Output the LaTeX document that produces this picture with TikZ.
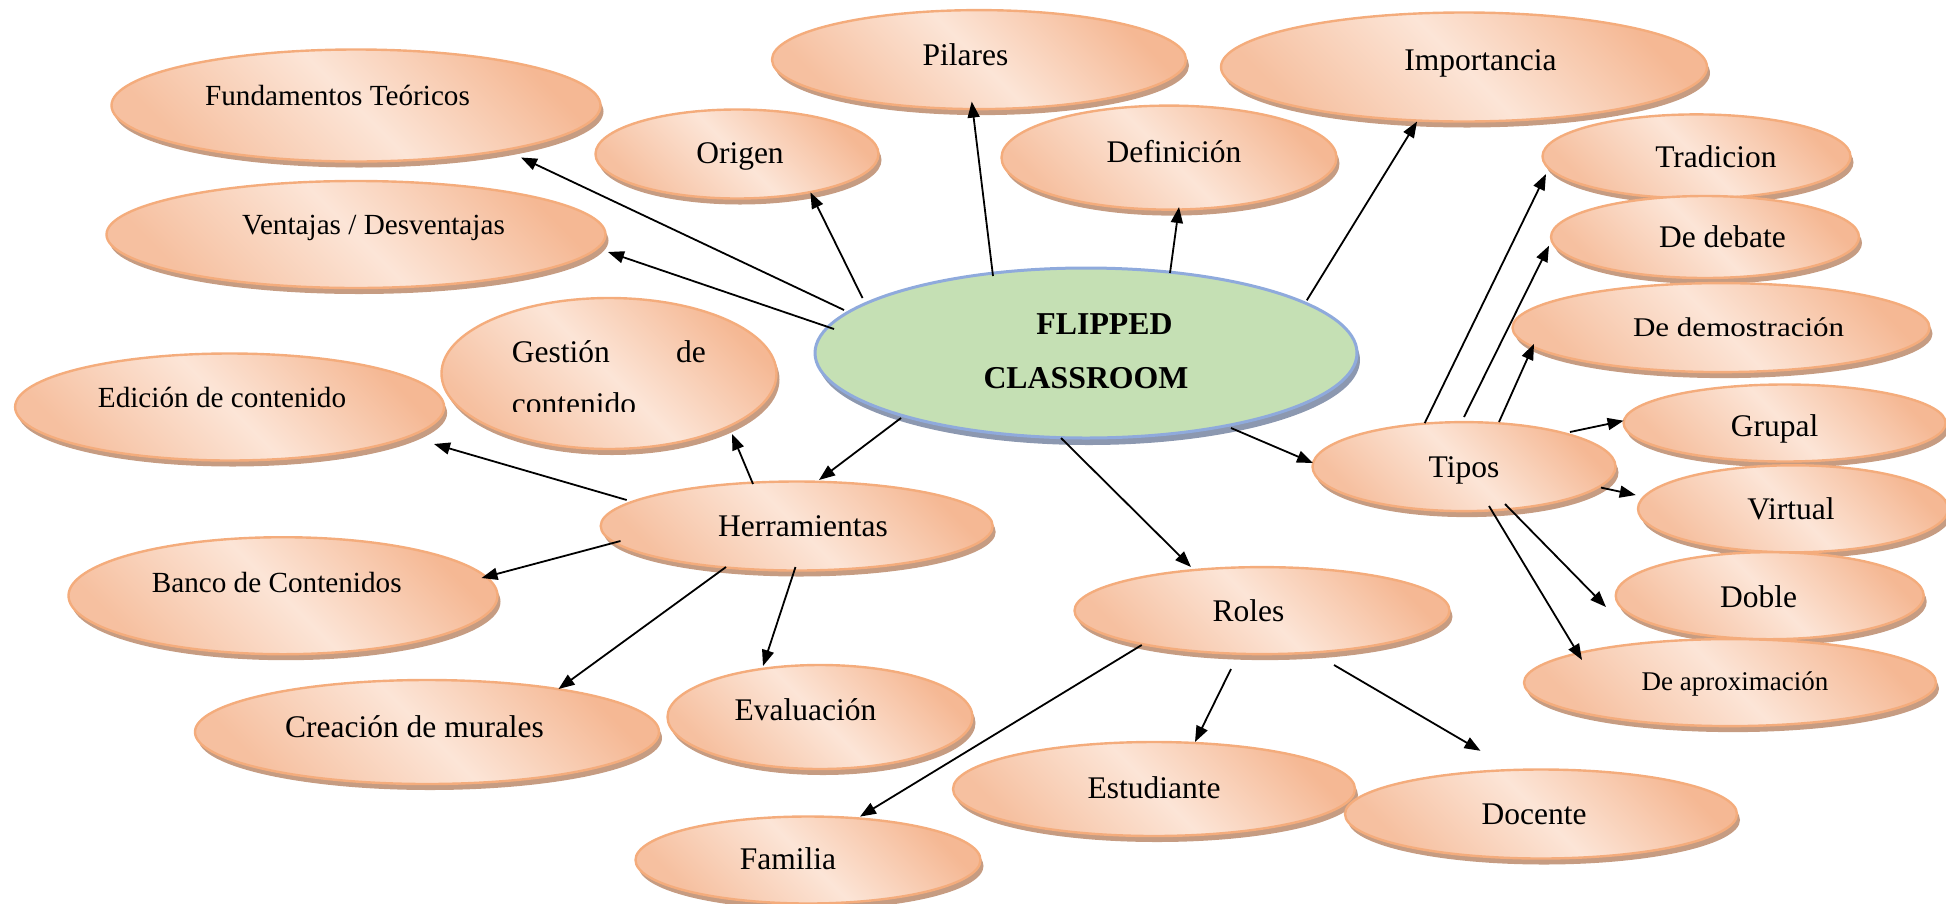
\documentclass[tikz,border=0pt]{standalone}
\usepackage{fontspec}
\setmainfont{Liberation Serif}
\usetikzlibrary{shapes.geometric,shadows,arrows.meta,calc}
\definecolor{bord}{RGB}{244,172,124}
\definecolor{shad}{RGB}{198,156,130}
\definecolor{dk}{RGB}{245,184,148}
\definecolor{dk2}{RGB}{246,192,160}
\definecolor{lt}{RGB}{252,229,215}
\definecolor{gfill}{RGB}{197,224,180}
\definecolor{gbord}{RGB}{143,170,220}
\definecolor{gshad}{RGB}{140,152,176}
\begin{document}
\begin{tikzpicture}[x=1pt,y=-1pt,
  bub/.style 2 args={ellipse, draw=bord, line width=2.4pt,
    top color=dk, bottom color=dk2, middle color=lt, shading angle=-45,
    drop shadow={shadow xshift=3pt, shadow yshift=-6pt, fill=shad, opacity=1},
    inner sep=0pt, minimum width=#1pt, minimum height=#2pt},
  lbA/.style={font=\fontsize{31.5}{36}\selectfont, text height=21.4pt, text depth=0pt, inner sep=0pt, text=black},
  lbB/.style={font=\fontsize{29.2}{34}\selectfont, text height=19.8pt, text depth=0pt, inner sep=0pt, text=black},
  lbC/.style={font=\fontsize{27}{32}\selectfont, text height=18.4pt, text depth=0pt, inner sep=0pt, text=black},
  lbF/.style={font=\fontsize{31.8}{36}\selectfont\bfseries, text height=21.6pt, text depth=0pt, inner sep=0pt, text=black},
  arr/.style={-{Triangle[length=16pt,width=12pt]}, line width=1.8pt, black}]
\useasboundingbox (0,0) rectangle (1946,903);
\clip (0,0) rectangle (1946,903);

% central node
\node[ellipse, draw=gbord, line width=3pt, fill=gfill,
  drop shadow={shadow xshift=3pt, shadow yshift=-7pt, fill=gshad, opacity=1},
  inner sep=0pt, minimum width=542pt, minimum height=170pt,
  label={[lbF,xshift=18.5pt,yshift=29.7pt]center:FLIPPED},
  label={[lbF,yshift=-24.8pt]center:CLASSROOM}] (fc) at (1086,353) {};

% left / top nodes
\node[bub={489}{112}, label={[lbB,xshift=-18.5pt,yshift=10pt]center:Fundamentos Teóricos}] (fund) at (356,105.5) {};
\node[bub={283}{89}, label={[lbA,xshift=3pt,yshift=1.4pt]center:Origen}] (orig) at (737,154) {};
\node[bub={414}{99}, label={[lbA,xshift=-13.5pt,yshift=5pt]center:Pilares}] (pil) at (979,59.6) {};
\node[bub={335}{104}, label={[lbA,xshift=5pt,yshift=6.2pt]center:Definición}] (defi) at (1169,157.6) {};
\node[bub={486}{109}, label={[lbA,xshift=16.5pt,yshift=7.4pt]center:Importancia}] (imp) at (1464,67) {};
\node[bub={499}{107}, label={[lbB,xshift=17.5pt,yshift=9.9pt]center:Ventajas / Desventajas}] (vent) at (356,234.5) {};
\node[bub={335}{151}] (gest) at (609,373.5) {};
\node[bub={429}{107}, label={[lbB,xshift=-7.6pt,yshift=9pt]center:Edición de contenido}] (edic) at (229.6,407) {};

% Herramientas branch
\node[bub={392}{89}, label={[lbA,xshift=6.3pt]center:Herramientas}] (herr) at (796.7,526) {};
\node[bub={429}{117}, label={[lbB,xshift=-6.3pt,yshift=12.7pt]center:Banco de Contenidos}] (banco) at (283,595.7) {};
\node[bub={464}{104}, label={[lbA,xshift=-12.5pt,yshift=5pt]center:Creación de murales}] (crea) at (427,732) {};
\node[bub={305}{104}, label={[lbA,xshift=-14.6pt,yshift=7pt]center:Evaluación}] (eval) at (820,717) {};

% Tipos branch
\node[bub={303}{89}, label={[lbA]center:Tipos}] (tipos) at (1464,466.6) {};
\node[bub={308}{84}, label={[lbA,xshift=19.5pt]center:Tradicion}] (trad) at (1696.5,156.4) {};
\node[bub={308}{82}, label={[lbA,xshift=17.5pt]center:De debate}] (deb) at (1705,237) {};
\node[bub={417}{89}, label={[lbC,xshift=17.6pt]center:\scalebox{1.15}[1]{De demostración}}] (dem) at (1721,327.6) {};
\node[bub={322}{77}, label={[lbA,xshift=-10pt,yshift=-2.7pt]center:Grupal}] (grup) at (1784.6,423) {};
\node[bub={310}{87}, label={[lbA,xshift=-2pt]center:Virtual}] (virt) at (1793,508.8) {};
\node[bub={308}{87}, label={[lbA,xshift=-11.2pt,yshift=-1.3pt]center:Doble}] (doble) at (1769.7,595.7) {};
\node[bub={412}{87}, label={[lbC,xshift=5pt,yshift=1.3pt]center:De aproximación}] (aprox) at (1730,682.6) {};

% Roles branch
\node[bub={375}{87}, label={[lbA,xshift=-13.5pt]center:Roles}] (roles) at (1262,610.6) {};
\node[bub={402}{94}, label={[lbA,yshift=1pt]center:Estudiante}] (est) at (1154,789) {};
\node[bub={392}{89}, label={[lbA,xshift=-7pt]center:Docente}] (doc) at (1541,814) {};
\node[bub={345}{87}, label={[lbA,xshift=-20pt,yshift=1pt]center:Familia}] (fam) at (808,860) {};

% clipped text of Gestion de contenido
\begin{scope}
\clip (0,0) rectangle (1946,411.5);
\node[anchor=north west, inner sep=0pt, text width=194pt, align=left,
  font=\fontsize{31.5}{52}\selectfont] (gestxt) at (511.7,340.5) {Gestión\hfill de\\contenido};
\end{scope}

% connectors from the centre
\draw[arr] ($(fc)+(-223.5,-55)$) -- ($(orig)+(73.4,38.4)$);
\draw[arr] ($(fc)+(-242,-43)$) -- ($(fund)+(165,52)$);
\draw[arr] ($(fc)+(-252,-24)$) -- ($(vent)+(252,17.5)$);
\draw[arr] ($(fc)+(-93,-77)$) -- ($(pil)+(-7.3,42)$);
\draw[arr] ($(fc)+(84,-80)$) -- ($(defi)+(10,49.4)$);
\draw[arr] ($(fc)+(220.8,-52.7)$) -- ($(imp)+(-47,54.6)$);
\draw[arr] ($(fc)+(145,75)$) -- ($(tipos)+(-151,-3.6)$);
\draw[arr] ($(fc)+(-25,85)$) -- ($(roles)+(-71,-43.6)$);
\draw[arr] ($(fc)+(-185,65)$) -- ($(herr)+(22.3,-46)$);

% Herramientas
\draw[arr] ($(herr)+(-170,-26)$) -- ($(edic)+(204.4,37)$);
\draw[arr] ($(herr)+(-43.7,-42)$) -- ($(gest)+(123,60.5)$);
\draw[arr] ($(herr)+(-176.2,15)$) -- ($(banco)+(198.5,-17.7)$);
\draw[arr] ($(herr)+(-70.7,41)$) -- ($(crea)+(131.5,-43)$);
\draw[arr] ($(herr)+(-1.2,41)$) -- ($(eval)+(-57,-51)$);

% Tipos
\draw[arr] ($(tipos)+(-39.3,-43.5)$) -- ($(trad)+(-150.5,17.6)$);
\draw[arr] ($(tipos)+(0,-49.6)$) -- ($(deb)+(-156,8.7)$);
\draw[arr] ($(tipos)+(35,-44.6)$) -- ($(dem)+(-187,16.2)$);
\draw[arr] ($(tipos)+(106,-34.6)$) -- ($(grup)+(-161,-2.3)$);
\draw[arr] ($(tipos)+(137,21)$) -- ($(virt)+(-157.3,-13.8)$);
\draw[arr] ($(tipos)+(41,37.4)$) -- ($(doble)+(-163.7,11.3)$);
\draw[arr] ($(tipos)+(25,39.4)$) -- ($(aprox)+(-148,-22.6)$);

% Roles
\draw[arr] ($(roles)+(-120.3,34.4)$) -- ($(fam)+(52,-43.4)$);
\draw[arr] ($(roles)+(-31,58.4)$) -- ($(est)+(41,-47)$);
\draw[arr] ($(roles)+(72,54.4)$) -- ($(doc)+(-60.5,-63.2)$);
\end{tikzpicture}
\end{document}
